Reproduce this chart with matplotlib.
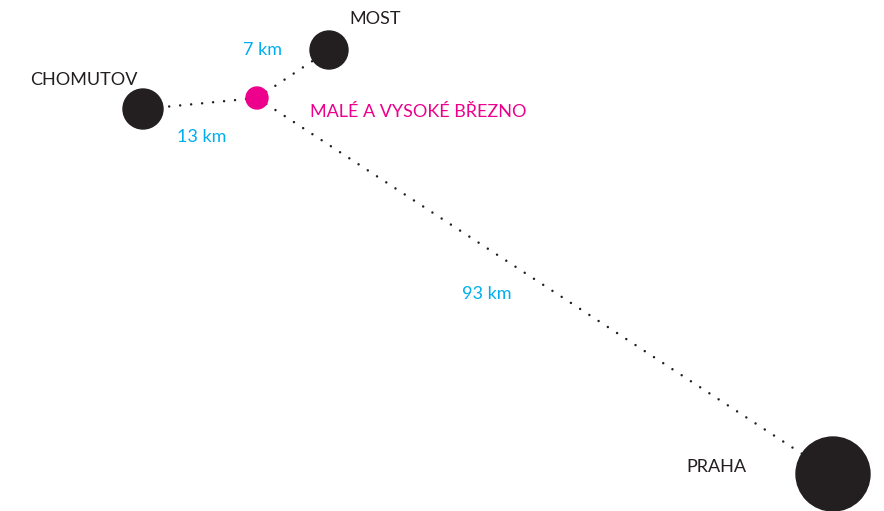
import matplotlib.pyplot as plt
from matplotlib.patches import Circle

# mesta (stred v pixelech obrazku, y roste dolu)
mesta = ['CHOMUTOV', 'MOST', 'PRAHA']
mesta_x = [143, 329, 833]
mesta_y = [109, 50, 474]
mesta_r = [20, 19, 37]

# cilova obec
obec = 'MALÉ A VYSOKÉ BŘEZNO'
obec_x, obec_y, obec_r = 257, 98, 11

vzdalenosti = ['13 km', '7 km', '93 km']

TMAVA = '#231f20'
RUZOVA = '#ec008c'
MODRA = '#00aeef'

plt.rcParams['font.family'] = ['Lato', 'DejaVu Sans']

fig = plt.figure(figsize=(8.84, 5.11), dpi=100)
ax = fig.add_axes([0, 0, 1, 1])
ax.set_xlim(0, 884)
ax.set_ylim(511, 0)
ax.axis('off')

# teckovane spojnice
for x, y in zip(mesta_x, mesta_y):
    ax.plot([obec_x, x], [obec_y, y], color=TMAVA, lw=1.8,
            linestyle=(0, (0.01, 4.4)), dash_capstyle='round', zorder=1)

for x, y, r in zip(mesta_x, mesta_y, mesta_r):
    ax.add_patch(Circle((x, y), r, color=TMAVA, zorder=2))
ax.add_patch(Circle((obec_x, obec_y), obec_r, color=RUZOVA, zorder=2))

# popisky mest
fs = 13
ax.text(30, 80, mesta[0], fontsize=fs, color=TMAVA, va='center', ha='left')
ax.text(349, 19, mesta[1], fontsize=fs, color=TMAVA, va='center', ha='left')
ax.text(686, 467, mesta[2], fontsize=fs, color=TMAVA, va='center', ha='left')
ax.text(310, 112, obec, fontsize=fs, color=RUZOVA, va='center', ha='left')

# vzdalenosti
ax.text(177, 137, vzdalenosti[0], fontsize=fs, color=MODRA, va='center', ha='left')
ax.text(243, 50, vzdalenosti[1], fontsize=fs, color=MODRA, va='center', ha='left')
ax.text(462, 294, vzdalenosti[2], fontsize=fs, color=MODRA, va='center', ha='left')

fig.savefig('out.png', dpi=100)
